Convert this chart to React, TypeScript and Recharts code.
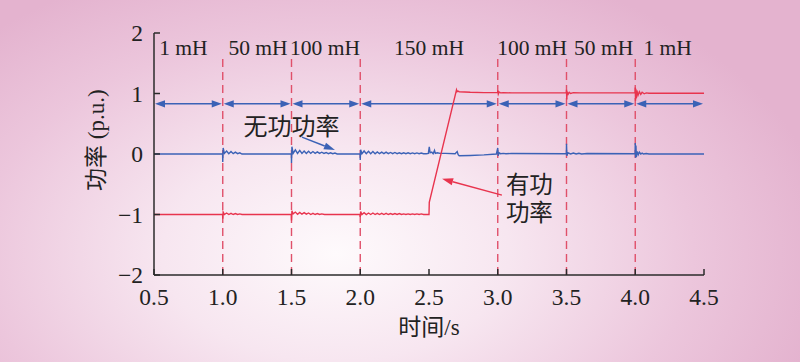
import React from "react";
import { ComposedChart, Line, XAxis, YAxis, ReferenceLine, ReferenceDot } from "recharts";

// [time s, p.u.] points
const reactivePower: [number, number][] = [
  [0.5, 0], [0.999, 0], [1.0, -0.13], [1.003, 0.1], [1.012, 0.01], [1.028, 0.05], [1.044, 0.005], [1.06, 0.04],
  [1.076, 0.005], [1.092, 0.03], [1.108, 0.005], [1.124, 0.02], [1.14, 0], [1.16, 0],
  [1.499, 0], [1.5, -0.15], [1.503, 0.12], [1.512, 0.01], [1.528, 0.07], [1.544, 0.01], [1.56, 0.06], [1.576, 0.01],
  [1.592, 0.05], [1.608, 0.01], [1.624, 0.045], [1.64, 0.01], [1.656, 0.04], [1.672, 0.01], [1.688, 0.035],
  [1.704, 0.01], [1.72, 0.03], [1.736, 0.01], [1.752, 0.025], [1.768, 0.005], [1.784, 0.02], [1.8, 0.005],
  [1.816, 0.015], [1.832, 0], [1.85, 0],
  [1.999, 0], [2.0, -0.1], [2.003, 0.07], [2.012, 0.005], [2.028, 0.05], [2.044, 0.005], [2.06, 0.045], [2.076, 0.005],
  [2.092, 0.04], [2.108, 0.005], [2.124, 0.035], [2.14, 0.005], [2.156, 0.03], [2.172, 0.005], [2.188, 0.03],
  [2.204, 0.005], [2.22, 0.025], [2.236, 0.005], [2.252, 0.025], [2.268, 0.005], [2.284, 0.02], [2.3, 0.005],
  [2.316, 0.02], [2.332, 0.005], [2.348, 0.02], [2.364, 0.005], [2.38, 0.018], [2.396, 0.005], [2.412, 0.018],
  [2.428, 0.005], [2.444, 0.015], [2.46, 0.005], [2.48, 0.005],
  [2.495, 0.01], [2.502, 0.12], [2.508, 0.02], [2.52, 0.03], [2.53, 0.005], [2.54, 0.06], [2.546, 0.01], [2.56, 0.02],
  [2.58, 0.01], [2.62, 0.01], [2.69, 0.005], [2.705, 0.04], [2.712, -0.01], [2.72, -0.03], [2.8, -0.025],
  [2.9, -0.015], [2.99, 0],
  [3.0, 0.1], [3.003, -0.03], [3.01, 0.02], [3.02, 0.005], [3.04, 0.01], [3.06, 0.005], [3.1, 0.008], [3.499, 0.005],
  [3.5, 0.17], [3.503, -0.03], [3.51, 0.02], [3.53, 0], [3.55, 0.015], [3.57, 0], [3.59, 0.012], [3.61, 0],
  [3.65, 0.008], [3.999, 0.005],
  [4.0, 0.18], [4.002, -0.06], [4.005, 0.14], [4.008, -0.05], [4.014, 0.04], [4.022, -0.01], [4.03, 0.03],
  [4.04, 0], [4.05, 0.015], [4.06, 0], [4.08, 0.008], [4.1, 0], [4.5, 0],
];

const activePower: [number, number][] = [
  [0.5, -1], [0.999, -1], [1.0, -1.07], [1.003, -0.96], [1.012, -1.0], [1.028, -0.975], [1.044, -1.0], [1.06, -0.98],
  [1.076, -1.0], [1.092, -0.985], [1.108, -1.0], [1.124, -0.99], [1.14, -1],
  [1.499, -1], [1.5, -1.1], [1.503, -0.94], [1.512, -0.99], [1.528, -0.96], [1.544, -0.995], [1.56, -0.965],
  [1.576, -0.995], [1.592, -0.97], [1.608, -0.995], [1.624, -0.975], [1.64, -1.0], [1.656, -0.98], [1.672, -1.0],
  [1.688, -0.985], [1.704, -1.0], [1.72, -0.99], [1.74, -1],
  [1.999, -1], [2.0, -1.04], [2.003, -0.95], [2.012, -1.0], [2.028, -0.97], [2.044, -1.0], [2.06, -0.975],
  [2.076, -1.0], [2.092, -0.975], [2.108, -1.0], [2.124, -0.98], [2.14, -1.0], [2.156, -0.98], [2.172, -1.0],
  [2.188, -0.98], [2.204, -1.0], [2.22, -0.985], [2.236, -1.0], [2.252, -0.985], [2.268, -1.0], [2.284, -0.985],
  [2.3, -1.0], [2.316, -0.99], [2.332, -1.0], [2.348, -0.99], [2.364, -1.0], [2.38, -0.99], [2.396, -1.0],
  [2.412, -0.99], [2.428, -1.0], [2.444, -0.99], [2.46, -1.0], [2.5, -1.0],
  [2.502, -0.8], [2.7, 1.06], [2.704, 1.03], [2.71, 1.04], [2.72, 1.03], [2.8, 1.02], [2.9, 1.015], [2.999, 1.015],
  [3.0, 1.05], [3.004, 0.99], [3.01, 1.025], [3.02, 1.01], [3.04, 1.015], [3.1, 1.01], [3.499, 1.01],
  [3.5, 1.06], [3.502, 0.9], [3.505, 1.03], [3.512, 0.99], [3.52, 1.02], [3.53, 1.0], [3.55, 1.015], [3.6, 1.01],
  [3.999, 1.01],
  [4.0, 1.1], [4.002, 0.88], [4.004, 1.08], [4.007, 0.92], [4.012, 1.05], [4.02, 0.97], [4.03, 1.03], [4.04, 0.985],
  [4.05, 1.02], [4.065, 0.995], [4.08, 1.01], [4.1, 1.005], [4.5, 1.005],
];

const switchTimes = [1.0, 1.5, 2.0, 3.0, 3.5, 4.0];
const spanStarts = [0.5, 1.0, 1.5, 2.0, 3.0, 3.5, 4.0];
const spanEnds = [1.0, 1.5, 2.0, 3.0, 3.5, 4.0, 4.5];
const inductLabels = ["1 mH", "50 mH", "100 mH", "150 mH", "100 mH", "50 mH", "1 mH"];
const inductCenters = [0.714, 1.256, 1.744, 2.5, 3.25, 3.77, 4.235];
const xTicks = [0.5, 1.0, 1.5, 2.0, 2.5, 3.0, 3.5, 4.0, 4.5];
const yTicks = [-2, -1, 0, 1, 2];

const ARROW_LEVEL = 0.83;
const LABEL_LEVEL = 1.76;

const RED = "#e8344e";
const BLUE = "#3b62b6";
const DASH = "#e0506a";
const AXIS = "#2b2b2b";
const FONT = "'Liberation Serif', 'Noto Sans CJK SC', serif";

const reactiveData = reactivePower.map(([t, v]) => ({ t, v }));
const activeData = activePower.map(([t, v]) => ({ t, v }));

function DoubleArrow(props: any) {
  const { x1, y1, x2, y2 } = props;
  const L = 10;
  const H = 3.6;
  return (
    <g>
      <line x1={x1 + 4} y1={y1} x2={x2 - 4} y2={y2} stroke={BLUE} strokeWidth={1.4} />
      <polygon points={`${x1 + 1},${y1} ${x1 + 1 + L},${y1 - H} ${x1 + 1 + L},${y1 + H}`} fill={BLUE} />
      <polygon points={`${x2 - 1},${y2} ${x2 - 1 - L},${y2 - H} ${x2 - 1 - L},${y2 + H}`} fill={BLUE} />
    </g>
  );
}

function pointer(color: string) {
  return (props: any) => {
    const { x1, y1, x2, y2 } = props;
    const dx = x2 - x1;
    const dy = y2 - y1;
    const len = Math.hypot(dx, dy);
    const ux = dx / len;
    const uy = dy / len;
    const L = 11;
    const H = 3.6;
    const bx = x2 - ux * L;
    const by = y2 - uy * L;
    return (
      <g>
        <line x1={x1} y1={y1} x2={bx} y2={by} stroke={color} strokeWidth={1.4} />
        <polygon
          points={`${x2},${y2} ${bx - uy * H},${by + ux * H} ${bx + uy * H},${by - ux * H}`}
          fill={color}
        />
      </g>
    );
  };
}

const fmtY = (v: number) => (v < 0 ? `\u2212${Math.abs(v)}` : `${v}`);
const fmtX = (v: number) => v.toFixed(1);

export default function App() {
  return (
    <div
      style={{
        position: "absolute",
        left: 0,
        top: 0,
        width: 800,
        height: 362,
        background:
          "radial-gradient(ellipse 62% 85% at 42% 70%, #fefafc 0%, #f7e6f0 35%, #ecc6dc 72%, #e4b3cf 100%)",
      }}
    >
      <ComposedChart width={800} height={362} margin={{ top: 33, right: 96, left: 0, bottom: 0 }}>
        <XAxis
          type="number"
          dataKey="t"
          domain={[0.5, 4.5]}
          ticks={xTicks}
          interval={0}
          tickFormatter={fmtX}
          height={87}
          tickSize={-6}
          tickMargin={19}
          axisLine={{ stroke: AXIS, strokeWidth: 1.5 }}
          tickLine={{ stroke: AXIS, strokeWidth: 1.5 }}
          tick={{ fontSize: 23.5, fill: "#222", fontFamily: FONT }}
          allowDataOverflow
        />
        <YAxis
          type="number"
          domain={[-2, 2]}
          ticks={yTicks}
          interval={0}
          tickFormatter={fmtY}
          width={154}
          tickSize={-6}
          tickMargin={17}
          axisLine={{ stroke: AXIS, strokeWidth: 1.5 }}
          tickLine={{ stroke: AXIS, strokeWidth: 1.5 }}
          tick={{ fontSize: 23.5, fill: "#222", fontFamily: FONT }}
          allowDataOverflow
        />

        {switchTimes.map((t) => (
          <ReferenceLine
            key={`sw-${t}`}
            segment={[{ x: t, y: -2 }, { x: t, y: 1.58 }]}
            stroke={DASH}
            strokeWidth={1.4}
            strokeDasharray="8 5"
          />
        ))}

        {spanStarts.map((a, i) => (
          <ReferenceLine
            key={`span-${i}`}
            segment={[{ x: a, y: ARROW_LEVEL }, { x: spanEnds[i], y: ARROW_LEVEL }]}
            shape={DoubleArrow}
          />
        ))}

        {inductLabels.map((txt, i) => (
          <ReferenceDot
            key={`lab-${i}`}
            x={inductCenters[i]}
            y={LABEL_LEVEL}
            r={0}
            fill="none"
            stroke="none"
            label={{ value: txt, position: "center", fontSize: 21.5, fill: "#222", fontFamily: FONT }}
          />
        ))}

        <Line data={reactiveData} dataKey="v" type="linear" stroke={BLUE} strokeWidth={1.4} dot={false} isAnimationActive={false} />
        <Line data={activeData} dataKey="v" type="linear" stroke={RED} strokeWidth={1.4} dot={false} isAnimationActive={false} />

        <ReferenceLine segment={[{ x: 1.576, y: 0.28 }, { x: 1.816, y: 0.066 }]} shape={pointer(BLUE)} />
        <ReferenceLine segment={[{ x: 3.03, y: -0.68 }, { x: 2.595, y: -0.41 }]} shape={pointer(RED)} />

        <ReferenceDot x={1.5} y={0.46} r={0} fill="none" stroke="none"
          label={{ value: "无功功率", position: "center", fontSize: 24, fill: "#222", fontFamily: FONT }} />
        <ReferenceDot x={3.23} y={-0.51} r={0} fill="none" stroke="none"
          label={{ value: "有功", position: "center", fontSize: 23.5, fill: "#222", fontFamily: FONT }} />
        <ReferenceDot x={3.23} y={-0.975} r={0} fill="none" stroke="none"
          label={{ value: "功率", position: "center", fontSize: 23.5, fill: "#222", fontFamily: FONT }} />

        <ReferenceDot x={0.078} y={0.23} r={0} fill="none" stroke="none" ifOverflow="visible"
          label={{ value: "功率 (p.u.)", position: "center", angle: -90, fontSize: 23, fill: "#222", fontFamily: FONT }} />
        <ReferenceDot x={2.5} y={-2.86} r={0} fill="none" stroke="none" ifOverflow="visible"
          label={{ value: "时间/s", position: "center", fontSize: 23, fill: "#222", fontFamily: FONT }} />
      </ComposedChart>
    </div>
  );
}
